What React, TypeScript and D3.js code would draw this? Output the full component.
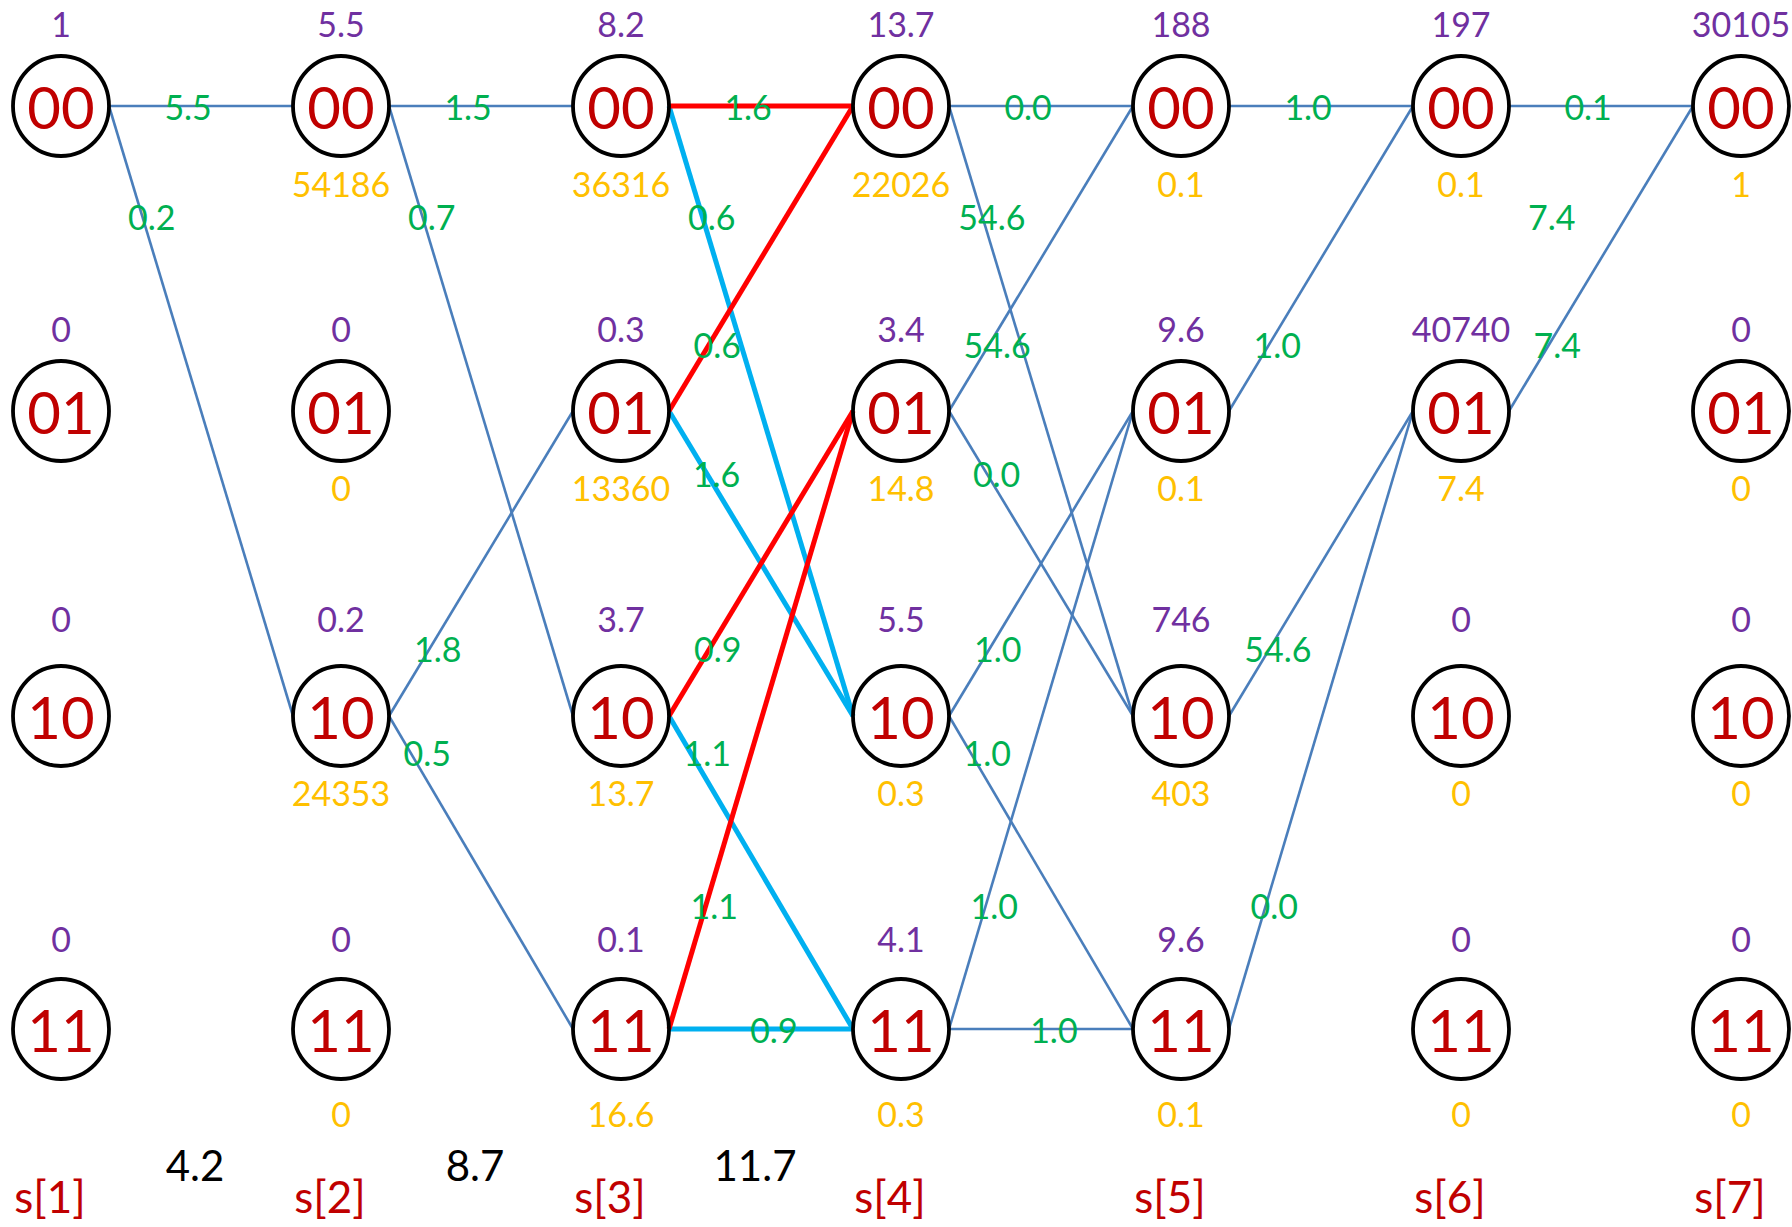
import React from "react";
import * as d3 from "d3";

// ---------- data ----------
const stages = [1, 2, 3, 4, 5, 6, 7];
const states = ["00", "01", "10", "11"];

// forward metrics (purple, above each node), indexed by stage
const alpha00 = [1, 5.5, 8.2, 13.7, 188, 197, 30105];
const alpha01 = [0, 0, 0.3, 3.4, 9.6, 40740, 0];
const alpha10 = [0, 0.2, 3.7, 5.5, 746, 0, 0];
const alpha11 = [0, 0, 0.1, 4.1, 9.6, 0, 0];

// backward metrics (orange, below each node), null = no value shown
const beta00 = [null, 54186, 36316, 22026, 0.1, 0.1, 1];
const beta01 = [null, 0, 13360, 14.8, 0.1, 7.4, 0];
const beta10 = [null, 24353, 13.7, 0.3, 403, 0, 0];
const beta11 = [null, 0, 16.6, 0.3, 0.1, 0, 0];

// transitions: [from stage, from state, to state, branch metric, kind]
// kind: n = normal, r = red path, c = cyan path, h = label only
const transitions: [number, string, string, number, string][] = [
  [1, "00", "00", 5.5, "n"], [1, "00", "10", 0.2, "n"],
  [2, "00", "00", 1.5, "n"], [2, "00", "10", 0.7, "n"], [2, "10", "01", 1.8, "n"], [2, "10", "11", 0.5, "n"],
  [3, "00", "10", 0.6, "c"], [3, "01", "10", 1.6, "c"], [3, "10", "11", 1.1, "c"], [3, "11", "11", 0.9, "c"],
  [3, "00", "00", 1.6, "r"], [3, "01", "00", 0.6, "r"], [3, "10", "01", 0.9, "r"], [3, "11", "01", 1.1, "r"],
  [4, "00", "00", 0.0, "n"], [4, "00", "10", 54.6, "n"], [4, "01", "00", 54.6, "n"], [4, "01", "10", 0.0, "n"],
  [4, "10", "01", 1.0, "n"], [4, "10", "11", 1.0, "n"], [4, "11", "01", 1.0, "n"], [4, "11", "11", 1.0, "n"],
  [5, "00", "00", 1.0, "n"], [5, "01", "00", 1.0, "n"], [5, "10", "01", 54.6, "n"], [5, "11", "01", 0.0, "n"],
  [6, "00", "00", 0.1, "n"], [6, "00", "10", 7.4, "h"], [6, "01", "00", 7.4, "n"],
];

// accumulated path metrics shown between stages (black)
const pathStages = [1, 2, 3];
const pathMetrics = [4.2, 8.7, 11.7];

// ---------- layout / style ----------
const W = 1792, H = 1227;
const RX = 48, RY = 50;
const FONT = "Lato, 'Open Sans', 'DejaVu Sans', sans-serif";
const C_STATE = "#C00000";
const C_ALPHA = "#7030A0";
const C_BETA = "#FFC000";
const C_BRANCH = "#00B050";
const C_LINE = "#4A7EBB";
const C_RED = "#FF0000";
const C_CYAN = "#00B0F0";

const x = d3.scalePoint<number>().domain(stages).range([61, 1741]);
const y = d3.scaleOrdinal<string, number>().domain(states).range([106, 411, 716, 1029]);
const alphaDy = d3.scaleOrdinal<string, number>().domain(states).range([-81, -81, -96, -89]);
const betaDy = d3.scaleOrdinal<string, number>().domain(states).range([79, 78, 78, 86]);
const alphaRows: Record<string, number[]> = { "00": alpha00, "01": alpha01, "10": alpha10, "11": alpha11 };
const betaRows: Record<string, (number | null)[]> = { "00": beta00, "01": beta01, "10": beta10, "11": beta11 };
// label band (relative to source row) by source state and direction
const labelBand: Record<string, number> = {
  "00:1": 112, "01:-1": -65, "01:1": 64, "10:-1": -66, "10:1": 38, "11:-1": -122,
};

const baseline = (cy: number, size: number) => cy + size * 0.36;

function T({ cx, cy, size, color, children }: any) {
  return (
    <text x={cx} y={baseline(cy, size)} fontSize={size} fill={color} textAnchor="middle" fontFamily={FONT}>
      {children}
    </text>
  );
}

export default function App() {
  const edges = transitions.map(([s, a, b, v, k]) => {
    const x1 = (x(s) as number) + RX, y1 = y(a);
    const x2 = (x(s + 1) as number) - RX, y2 = y(b);
    const dir = Math.sign(states.indexOf(b) - states.indexOf(a));
    let lx: number, ly: number;
    if (dir === 0) {
      const t = a === "00" ? 0.43 : 0.57;
      lx = x1 + (x2 - x1) * t;
      ly = y1 + 2;
    } else {
      ly = y1 + labelBand[`${a}:${dir}`];
      const t = (ly - y1) / (y2 - y1);
      lx = x1 + (x2 - x1) * t + (a === "10" && dir === 1 ? 16 : 9);
    }
    return { x1, y1, x2, y2, v, k, lx, ly };
  });
  const strokeOf = (k: string) => (k === "r" ? C_RED : k === "c" ? C_CYAN : C_LINE);

  return (
    <svg width={W} height={H} style={{ position: "absolute", left: 0, top: 0, background: "#fff" }}>
      <rect width={W} height={H} fill="#fff" />
      {edges.filter((e) => e.k !== "h").map((e, i) => (
        <line key={"e" + i} x1={e.x1} y1={e.y1} x2={e.x2} y2={e.y2}
          stroke={strokeOf(e.k)} strokeWidth={e.k === "n" ? 2.6 : 5} />
      ))}
      {stages.map((s) =>
        states.map((st) => (
          <g key={`n${s}${st}`}>
            <ellipse cx={x(s)} cy={y(st)} rx={RX} ry={RY} fill="none" stroke="#000" strokeWidth={3.8} />
            <T cx={x(s)} cy={y(st) + 2} size={58} color={C_STATE}>{st}</T>
            <T cx={x(s)} cy={y(st) + alphaDy(st)} size={34} color={C_ALPHA}>{String(alphaRows[st][s - 1])}</T>
            {betaRows[st][s - 1] !== null && (
              <T cx={x(s)} cy={y(st) + betaDy(st)} size={34} color={C_BETA}>{String(betaRows[st][s - 1])}</T>
            )}
          </g>
        ))
      )}
      {edges.map((e, i) => (
        <T key={"l" + i} cx={e.lx} cy={e.ly} size={34} color={C_BRANCH}>{e.v.toFixed(1)}</T>
      ))}
      {pathStages.map((s, i) => (
        <T key={"p" + s} cx={((x(s) as number) + (x(s + 1) as number)) / 2 - 6} cy={1166} size={42} color="#000">
          {pathMetrics[i].toFixed(1)}
        </T>
      ))}
      {stages.map((s) => (
        <T key={"s" + s} cx={(x(s) as number) - 11} cy={1197} size={44} color={C_STATE}>{`s[${s}]`}</T>
      ))}
    </svg>
  );
}
